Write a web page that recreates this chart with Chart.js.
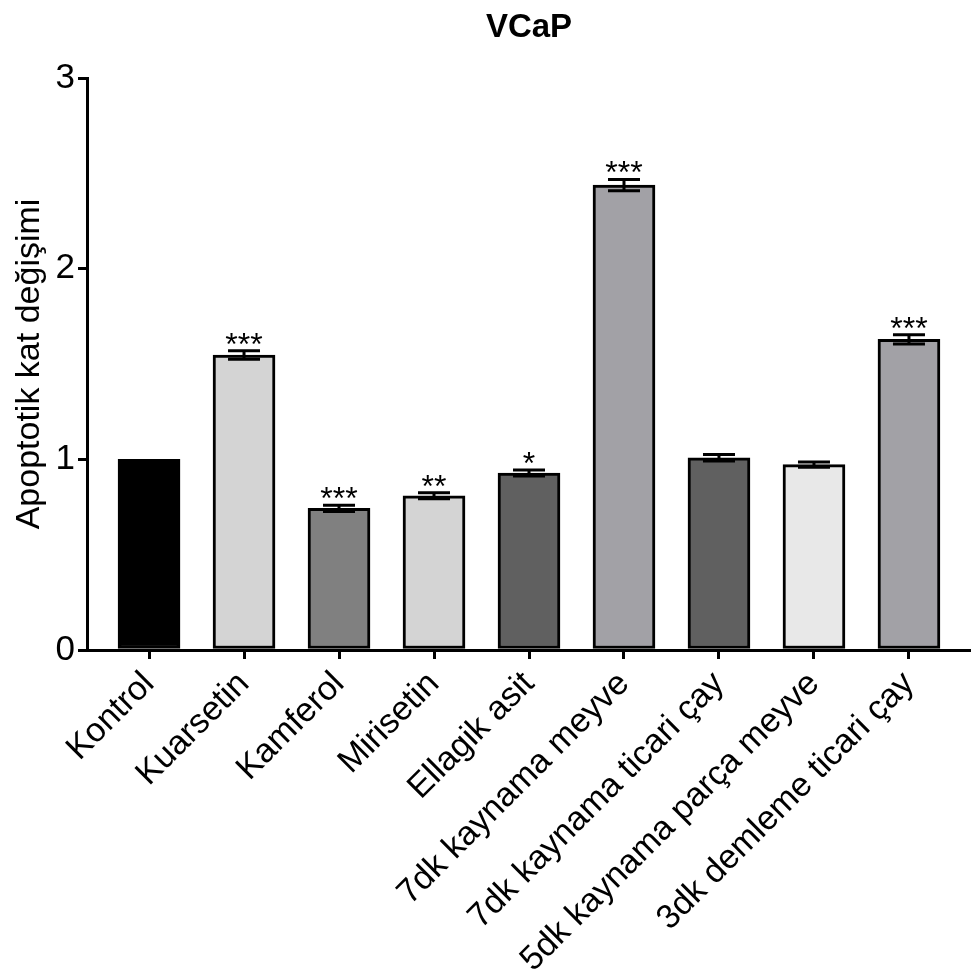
<!DOCTYPE html>
<html>
<head>
<meta charset="utf-8">
<script src="https://cdn.jsdelivr.net/npm/chart.js@4.4.1/dist/chart.umd.min.js"></script>
<style>
  html, body { margin: 0; padding: 0; background: #fff; }
  #wrap { width: 971px; height: 974px; position: relative; }
</style>
</head>
<body>
<div id="wrap"><canvas id="chart"></canvas></div>
<script>
// ─── Data ────────────────────────────────────────────────────
const categories = ['Kontrol', 'Kuarsetin', 'Kamferol', 'Mirisetin', 'Ellagik asit',
  '7dk kaynama meyve', '7dk kaynama ticari çay', '5dk kaynama parça meyve', '3dk demleme ticari çay'];
const values = [1.0, 1.547, 0.743, 0.809, 0.928, 2.438, 1.008, 0.972, 1.629];
const errors = [0, 0.022, 0.016, 0.016, 0.016, 0.03, 0.017, 0.014, 0.024];
const stars = ['', '***', '***', '**', '*', '***', '', '', '***'];
const fills = ['#000000', '#d4d4d4', '#808080', '#d4d4d4', '#606060', '#a2a1a6', '#606060', '#e8e8e8', '#a2a1a6'];
const yTicks = [0, 1, 2, 3];

const FONT = "'Liberation Sans', Arial, sans-serif";

// error bars, significance stars and the title
const extras = {
  id: 'extras',
  afterDatasetsDraw(chart) {
    const ctx = chart.ctx;
    const y = chart.scales.y;
    const meta = chart.getDatasetMeta(0);
    ctx.save();
    ctx.strokeStyle = '#000';
    ctx.fillStyle = '#000';
    ctx.lineWidth = 3;
    meta.data.forEach((bar, i) => {
      const x = bar.x;
      const top = y.getPixelForValue(values[i] + errors[i]);
      if (errors[i] > 0) {
        const bot = y.getPixelForValue(values[i] - errors[i]);
        ctx.beginPath();
        ctx.moveTo(x, top); ctx.lineTo(x, bot);
        ctx.moveTo(x - 16, top); ctx.lineTo(x + 16, top);
        ctx.moveTo(x - 16, bot); ctx.lineTo(x + 16, bot);
        ctx.stroke();
      }
      if (stars[i]) {
        ctx.font = '32px ' + FONT;
        ctx.textAlign = 'center';
        ctx.textBaseline = 'alphabetic';
        ctx.fillText(stars[i], x, top + 4);
      }
    });
    ctx.restore();
  },
  afterDraw(chart) {
    const { ctx, chartArea } = chart;
    ctx.save();
    ctx.fillStyle = '#000';
    ctx.font = 'bold 33px ' + FONT;
    ctx.textAlign = 'center';
    ctx.textBaseline = 'middle';
    ctx.fillText('VCaP', (chartArea.left + chartArea.right) / 2, 28);
    ctx.restore();
  }
};

new Chart(document.getElementById('chart'), {
  type: 'bar',
  data: {
    datasets: [{
      data: values.map((v, i) => ({ x: i, y: v })),
      backgroundColor: fills,
      borderColor: '#000',
      borderWidth: 3,
      borderSkipped: false,
      barThickness: 62,
    }]
  },
  options: {
    responsive: true, maintainAspectRatio: false, animation: false,
    layout: { padding: { top: 78, left: 0, right: 0, bottom: 0 } },
    plugins: { legend: { display: false }, tooltip: { enabled: false }, title: { display: false } },
    scales: {
      x: {
        type: 'linear', min: -0.653, max: 8.653, offset: false,
        afterBuildTicks: s => { s.ticks = categories.map((c, i) => ({ value: i })); },
        afterFit: s => { s.height = 324; s.paddingLeft = 0; s.paddingRight = 0; },
        ticks: {
          callback: v => categories[v], autoSkip: false, minRotation: 45, maxRotation: 45,
          color: '#000', font: { family: FONT, size: 34 }, padding: 5
        },
        grid: { offset: false, drawOnChartArea: false, drawTicks: true, tickLength: 9, lineWidth: 3, color: '#000' },
        border: { display: true, width: 3, color: '#000' }
      },
      y: {
        min: 0, max: 3,
        afterBuildTicks: s => { s.ticks = yTicks.map(v => ({ value: v })); },
        afterFit: s => { s.width = 87; },
        ticks: { color: '#000', font: { family: FONT, size: 35 }, padding: 3 },
        grid: { drawOnChartArea: false, drawTicks: true, tickLength: 9, lineWidth: 3, color: '#000' },
        border: { display: true, width: 3, color: '#000' },
        title: {
          display: true, text: 'Apoptotik kat değişimi', color: '#000',
          font: { family: FONT, size: 34 }, padding: { top: 9, bottom: 0 }
        }
      }
    }
  },
  plugins: [extras]
});
</script>
</body>
</html>
